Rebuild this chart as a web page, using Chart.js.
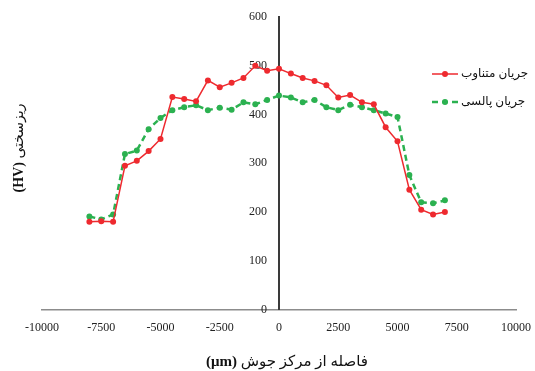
<!DOCTYPE html>
<html>
<head>
  <meta charset="utf-8">
  <title>Microhardness profile</title>
  <script src="https://cdn.jsdelivr.net/npm/chart.js"></script>
  <style>
    html, body { margin: 0; padding: 0; background: #fff; }
    #wrap { width: 535px; height: 371px; }
  </style>
</head>
<body>
<div id="wrap"><canvas id="hvChart" width="535" height="371"></canvas></div>

<script>
  // distance from weld centre (µm)
  const distances = [-8000, -7500, -7000, -6500, -6000, -5500, -5000, -4500, -4000, -3500,
    -3000, -2500, -2000, -1500, -1000, -500, 0, 500, 1000, 1500, 2000, 2500, 3000, 3500,
    4000, 4500, 5000, 5500, 6000, 6500, 7000];
  const acCurrent = [180, 181, 180, 295, 305, 325, 350, 436, 432, 427,
    470, 456, 465, 475, 500, 490, 494, 484, 475, 469, 460, 435, 440, 425,
    421, 374, 345, 246, 205, 195, 200];
  const pulsedCurrent = [191, 185, 195, 319, 326, 370, 393, 409, 415, 419,
    409, 414, 410, 425, 421, 430, 439, 435, 425, 430, 415, 409, 420, 415,
    409, 402, 395, 276, 220, 218, 224];
  const seriesNames = ['جریان متناوب', 'جریان پالسی'];
  const xTicks = [-10000, -7500, -5000, -2500, 0, 2500, 5000, 7500, 10000];

  const red = '#ee2a2f';
  const green = '#2bb150';
  const serif = "'Liberation Serif', 'DejaVu Sans', serif";

  // axis titles (mixed bold/regular) and the line+dot legend
  const extras = {
    id: 'extras',
    afterDraw(chart) {
      const ctx = chart.ctx;
      ctx.save();
      ctx.direction = 'ltr';
      ctx.fillStyle = '#111';
      ctx.textBaseline = 'middle';

      function mixed(x, y, boldPart, plainPart, size) {
        ctx.font = 'bold ' + size + 'px ' + serif;
        const w1 = ctx.measureText(boldPart + ' ').width;
        ctx.font = size + 'px ' + serif;
        const w2 = ctx.measureText(plainPart).width;
        let left = x - (w1 + w2) / 2;
        ctx.textAlign = 'left';
        ctx.font = 'bold ' + size + 'px ' + serif;
        ctx.fillText(boldPart, left, y);
        ctx.font = size + 'px ' + serif;
        ctx.fillText(plainPart, left + w1, y);
      }

      mixed(287, 362, '(μm)', 'فاصله از مرکز جوش', 15);

      ctx.save();
      ctx.translate(19, 148);
      ctx.rotate(-Math.PI / 2);
      mixed(0, 0, '(HV)', 'ریزسختی', 14);
      ctx.restore();

      const rows = [[red, [], 74], [green, [6, 4], 102]];
      rows.forEach((r, i) => {
        ctx.strokeStyle = r[0];
        ctx.fillStyle = r[0];
        ctx.lineWidth = i ? 2.5 : 1.5;
        ctx.setLineDash(r[1]);
        ctx.beginPath();
        ctx.moveTo(432, r[2]);
        ctx.lineTo(458, r[2]);
        ctx.stroke();
        ctx.setLineDash([]);
        ctx.beginPath();
        ctx.arc(445, r[2], 3, 0, Math.PI * 2);
        ctx.fill();
        ctx.fillStyle = '#111';
        ctx.font = '12px ' + serif;
        ctx.textAlign = 'left';
        ctx.fillText(seriesNames[i], 461, r[2]);
      });
      ctx.restore();
    }
  };

  new Chart(document.getElementById('hvChart'), {
    type: 'line',
    data: {
      datasets: [
        {
          label: seriesNames[0],
          data: distances.map((d, i) => ({x: d, y: acCurrent[i]})),
          borderColor: red,
          backgroundColor: red,
          borderWidth: 1.5,
          pointRadius: 3,
          pointBorderWidth: 0,
          tension: 0
        },
        {
          label: seriesNames[1],
          data: distances.map((d, i) => ({x: d, y: pulsedCurrent[i]})),
          borderColor: green,
          backgroundColor: green,
          borderWidth: 2.5,
          borderDash: [6, 4],
          pointRadius: 3,
          pointBorderWidth: 0,
          tension: 0
        }
      ]
    },
    options: {
      responsive: false,
      animation: false,
      layout: { padding: { left: 42, right: 19, top: 17, bottom: 33 } },
      plugins: {
        legend: { display: false },
        tooltip: { enabled: false }
      },
      scales: {
        x: {
          type: 'linear',
          min: -10000,
          max: 10000,
          afterBuildTicks: axis => { axis.ticks = xTicks.map(v => ({value: v})); },
          grid: { display: false },
          border: { color: '#8c8c8c', width: 1.5 },
          ticks: {
            font: { family: serif, size: 12 }, color: '#222', maxRotation: 0,
            callback: v => String(v)
          }
        },
        y: {
          position: { x: 0 },
          min: 0,
          max: 600,
          grid: { display: false },
          border: { color: '#3a3a3a', width: 2 },
          ticks: {
            // labels sit against the centred axis, so pad them with spaces
            stepSize: 100, font: { family: serif, size: 12 }, color: '#222',
            callback: v => v + '    '
          }
        }
      }
    },
    plugins: [extras]
  });
</script>
</body>
</html>
